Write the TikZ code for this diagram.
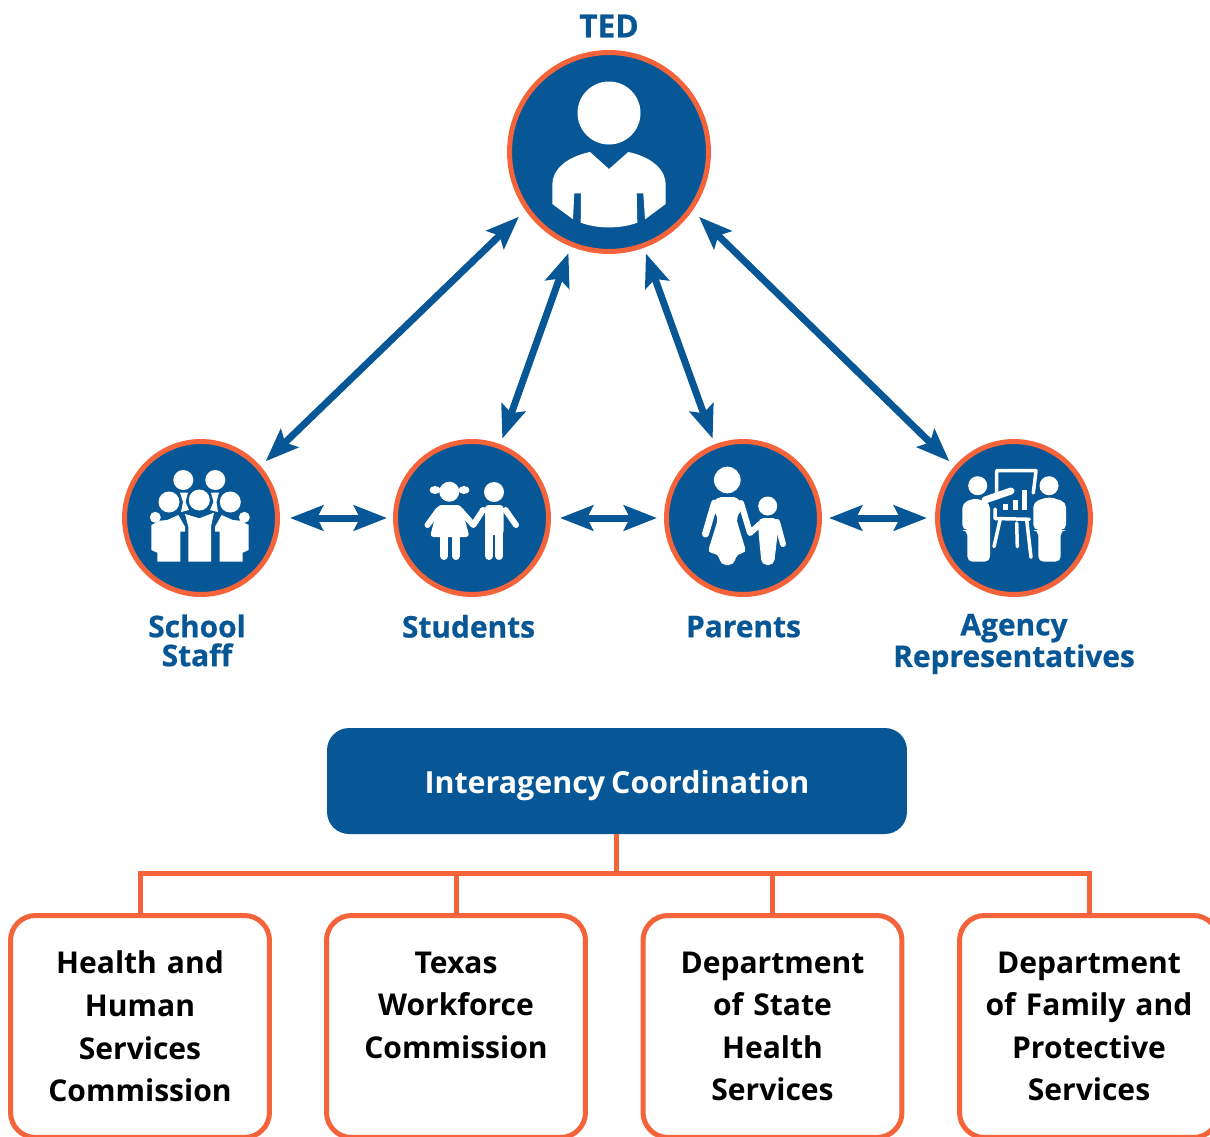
\documentclass[tikz,border=0pt]{standalone}
\usepackage{fontspec}
\usepackage{xcolor}
\setmainfont{Open Sans}[WordSpace=0.75]
\newfontfamily\heavyfont{Open Sans}[BoldFeatures={FakeBold=0.7}]
\usetikzlibrary{positioning, arrows.meta}
\definecolor{tedblue}{HTML}{075796}
\definecolor{tedorange}{HTML}{F4633A}
\tikzset{
    hub/.style={circle, draw=tedorange, fill=tedblue, line width=5*0.02cm, inner sep=0pt},
    twoway/.style={tedblue, line width=7*0.02cm, {Stealth[length=0.66cm, width=0.5cm, inset=0.12cm]}-{Stealth[length=0.66cm, width=0.5cm, inset=0.12cm]}},
    grouplabel/.style={align=center, text=tedblue, inner sep=0pt, font=\heavyfont\fontsize{17}{16.5}\selectfont\bfseries},
    agencybox/.style={rectangle, rounded corners=0.5cm, draw=tedorange, fill=white, line width=5*0.02cm, minimum width=5.18cm, minimum height=4.44cm, text width=5cm, align=center, inner sep=0pt, font=\fontsize{17.1}{24.2}\selectfont\bfseries},
    branch/.style={draw=tedorange, line width=5*0.02cm},
    iconpart/.style={fill=white, draw=none},
    limb/.style={draw=white, line cap=round, line join=round}
}
\begin{document}
\begin{tikzpicture}[x=0.02cm, y=-0.02cm]
    \clip (0, 0) rectangle (1210, 1136);

    \node[grouplabel, font=\heavyfont\fontsize{18}{18}\selectfont\bfseries] (tedlabel) at (609, 26) {TED};
    \node[hub, minimum size=3.98cm] (ted) at (609, 152) {};
    \node[hub, minimum size=3.06cm] (staff) at (201, 518) {};
    \node[hub, minimum size=3.06cm] (students) at (472, 518) {};
    \node[hub, minimum size=3.06cm] (parents) at (743, 518) {};
    \node[hub, minimum size=3.06cm] (agency) at (1014, 518) {};

    \node[grouplabel] (stafflabel) at (197, 640.5) {School\\Staff};
    \node[grouplabel, anchor=north] (studentslabel) at (468.5, 614.5) {Students};
    \node[grouplabel, anchor=north] (parentslabel) at (743.5, 615.5) {Parents};
    \node[grouplabel] (agencylabel) at (1014, 644) {Agency\\Representatives};

    \draw[twoway, shorten <=0.18cm, shorten >=0.14cm] (ted.215) -- (staff.41);
    \draw[twoway, shorten <=0.14cm, shorten >=0.12cm] (ted.248) -- (students.69);
    \draw[twoway, shorten <=0.12cm, shorten >=0.12cm] (ted.290) -- (parents.111);
    \draw[twoway, shorten <=0.18cm, shorten >=0.14cm] (ted.325) -- (agency.139);
    \draw[twoway, shorten <=0.2cm, shorten >=0.12cm] (staff) -- (students);
    \draw[twoway, shorten <=0.18cm, shorten >=0.14cm] (students) -- (parents);
    \draw[twoway, shorten <=0.14cm, shorten >=0.16cm] (parents) -- (agency);

    \node[rectangle, rounded corners=0.44cm, fill=tedblue, text=white, minimum width=11.6cm, minimum height=2.12cm, text height=0.62cm, text depth=0.14cm, font=\fontsize{17.3}{20}\selectfont\bfseries] (interagency) at (617, 781) {Interagency Coordination};
    \coordinate (bus) at (616.5, 873);
    \node[agencybox, anchor=north] (hhs) at (140, 913) {Health and\\Human\\Services\\Commission};
    \node[agencybox, anchor=north] (twc) at (456, 913) {Texas\\Workforce\\Commission\\~};
    \node[agencybox, anchor=north] (dshs) at (772.5, 913) {Department\\of State\\Health\\Services};
    \node[agencybox, anchor=north] (dfps) at (1089, 913) {Department\\of Family and\\Protective\\Services};
    \draw[branch] (interagency.south -| bus) -- (bus);
    \draw[branch] (bus) -| (hhs.north);
    \draw[branch] (bus) -| (twc.north);
    \draw[branch] (bus) -| (dshs.north);
    \draw[branch] (bus) -| (dfps.north);

    \fill[iconpart] (609, 113) circle (31.5);
    \fill[iconpart] (590, 152) -- (609, 169) -- (628.3, 152) .. controls (652, 157) and (666, 170) .. (665.7, 185) -- (665.7, 204) -- (645, 219.3) -- (643.3, 193.3) -- (636.7, 193.3) -- (637.3, 222.7) .. controls (620, 229) and (598, 229) .. (580.7, 222.7) -- (581, 193.3) -- (574.3, 193.3) -- (573, 219.3) -- (552.3, 204) -- (552.3, 185) .. controls (552, 170) and (566, 157) .. (590, 152) -- cycle;

    \fill[iconpart] (183.3, 480) circle (10);
    \fill[iconpart] (215.3, 480) circle (10);
    \fill[iconpart] (169, 502) circle (10.5);
    \fill[iconpart] (199.3, 500) circle (10.5);
    \fill[iconpart] (230.3, 502) circle (10.5);
    \fill[iconpart] (155.3, 517.3) circle (5.5);
    \fill[iconpart] (244.3, 517.3) circle (5.5);
    \fill[iconpart] (180, 492.5) -- (188, 492.5) -- (185.5, 502) -- (189, 510) -- (181, 512) -- (183, 502) -- cycle;
    \fill[iconpart] (211, 492.5) -- (219, 492.5) -- (216.5, 502) -- (218, 512) -- (210, 510) -- (213.5, 502) -- cycle;
    \fill[iconpart] (185, 514) -- (199.3, 518.3) -- (214, 512.7) -- (211, 526.7) -- (211, 561.7) -- (188.3, 561.7) -- (188.3, 526.7) -- cycle;
    \fill[iconpart] (151.3, 525) -- (160, 520.7) -- (167.3, 520) -- (178.3, 515) -- (185, 526.7) -- (185, 531.7) -- (180.3, 531.7) -- (180.3, 561.7) -- (157.3, 561.7) -- (157.3, 552.7) -- (151.3, 550) -- cycle;
    \fill[iconpart] (248.7, 525) -- (240, 520.7) -- (232.7, 520) -- (221.7, 515) -- (215, 526.7) -- (215, 531.7) -- (219.7, 531.7) -- (219.7, 561.7) -- (242.7, 561.7) -- (242.7, 552.7) -- (248.7, 550) -- cycle;

    \fill[iconpart] (449.3, 491.7) circle (10);
    \fill[iconpart] (435, 490) ellipse (5.5 and 4);
    \fill[iconpart] (464, 490) ellipse (5.5 and 4);
    \fill[iconpart] (494, 492) circle (10);
    \draw[limb, line width=6*0.02cm] (438.5, 510) -- (427.5, 525);
    \draw[limb, line width=6*0.02cm] (460, 510) -- (473.3, 525) -- (483, 510);
    \draw[limb, line width=6*0.02cm] (505.5, 510) -- (516, 525);
    \fill[iconpart, rounded corners=2pt] (438, 505) -- (461, 505) -- (469.5, 537) -- (430, 537) -- cycle;
    \draw[limb, line width=8*0.02cm] (444, 535) -- (444, 556);
    \draw[limb, line width=8*0.02cm] (455.5, 535) -- (455.5, 556);
    \fill[iconpart, rounded corners=2pt] (485, 505) -- (503.5, 505) -- (503.5, 535) -- (485, 535) -- cycle;
    \draw[limb, line width=8*0.02cm] (489.2, 530) -- (489.2, 556);
    \draw[limb, line width=8*0.02cm] (499.2, 530) -- (499.2, 556);

    \fill[iconpart] (727.3, 480) circle (13.3);
    \fill[iconpart, rounded corners=3pt] (716, 497) -- (738, 497) -- (743, 508) -- (736, 518) -- (746.7, 553.3) -- (736.7, 553.3) -- (734, 565) -- (720.7, 565) -- (718.3, 553.3) -- (707.3, 553.3) -- (718.3, 518) -- (712, 508) -- cycle;
    \draw[limb, line width=7*0.02cm] (714.5, 503) -- (705.5, 534);
    \draw[limb, line width=6*0.02cm] (741, 503) -- (750, 533) -- (760, 524);
    \fill[iconpart] (767.7, 506) circle (9.5);
    \fill[iconpart, rounded corners=3pt] (758.3, 518) -- (778, 518) -- (778, 530) -- (774, 565) -- (761.7, 565) -- (758.3, 530) -- cycle;
    \draw[limb, line width=6*0.02cm] (777, 522) -- (783, 544);

    \fill[iconpart] (977.7, 485.7) circle (9.5);
    \fill[iconpart] (1049, 485.7) circle (9.5);
    \fill[iconpart, rounded corners=3pt] (962.3, 503) -- (975, 498) -- (990, 503) -- (990, 561.7) -- (967.3, 561.7) -- (967.3, 530) -- (962.3, 530) -- cycle;
    \fill[iconpart, rounded corners=3pt] (1033.3, 502) -- (1049, 496.7) -- (1066, 502) -- (1066, 530) -- (1060.7, 530) -- (1060.7, 561.7) -- (1038.3, 561.7) -- (1038.3, 530) -- (1033.3, 530) -- cycle;
    \draw[limb, line width=7*0.02cm] (985, 500) -- (1011, 491);
    \draw[limb, line width=3.5*0.02cm] (996.7, 494) -- (996.7, 470.7) -- (1036, 470.7) -- (1033.3, 493);
    \draw[limb, line width=3.5*0.02cm] (995, 509) -- (995, 518.5) -- (1029.3, 519.3);
    \draw[limb, line width=3.5*0.02cm] (1000, 520) -- (994, 546.7);
    \draw[limb, line width=3.5*0.02cm] (1016.7, 523) -- (1017.3, 546.7);
    \draw[limb, line width=3.5*0.02cm] (1026.7, 520) -- (1031, 557.3);
    \fill[iconpart] (1002.5, 504) rectangle (1007.5, 510);
    \fill[iconpart] (1012.5, 500) rectangle (1017.5, 510);
    \fill[iconpart] (1021.5, 490) rectangle (1026.5, 510);
\end{tikzpicture}
\end{document}
